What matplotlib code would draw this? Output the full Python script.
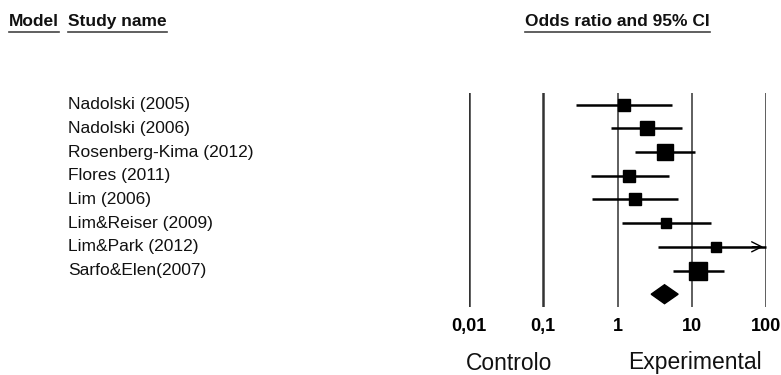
import numpy as np
import matplotlib.pyplot as plt
from matplotlib.transforms import blended_transform_factory
from matplotlib.lines import Line2D

plt.rcParams['font.family'] = ['Liberation Sans', 'DejaVu Sans']

# Study data
studies = ["Nadolski (2005)", "Nadolski (2006)", "Rosenberg-Kima (2012)",
           "Flores (2011)", "Lim (2006)", "Lim&Reiser (2009)",
           "Lim&Park (2012)", "Sarfo&Elen(2007)"]
odds = [1.23, 2.46, 4.43, 1.45, 1.71, 4.57, 20.9, 12.3]
ci_low = [0.28, 0.82, 1.73, 0.44, 0.45, 1.16, 3.53, 5.56]
ci_high = [5.45, 7.43, 11.2, 4.96, 6.56, 18.3, 124.0, 27.6]
weights = [9.6, 13.0, 19.2, 11.2, 9.6, 8.0, 5.4, 24.0]

# Pooled estimate
pooled = 4.30
pooled_low = 2.84
pooled_high = 6.56

tick_vals = [0.01, 0.1, 1, 10, 100]
tick_labels = ["0,01", "0,1", "1", "10", "100"]

W, H = 781, 375
fig = plt.figure(figsize=(W / 100, H / 100), dpi=100)

# forest panel: x from 0.01 to 100 in log scale
ax = fig.add_axes([469 / W, 1 - 307 / H, (766 - 469) / W, (307 - 93) / H])
ax.set_xscale('log')
ax.set_xlim(0.01, 100)
ax.set_ylim(8.54, -0.49)

for v in tick_vals:
    lw = 1.8 if v < 1 else 1.1
    ax.axvline(v, color='#333333', lw=lw, zorder=1)

n = len(studies)
for i in range(n):
    hi = min(ci_high[i], 100)
    ax.plot([ci_low[i], hi], [i, i], color='black', lw=1.8, zorder=2,
            clip_on=False, solid_capstyle='butt')
    if ci_high[i] > 100:
        ax.annotate('', xy=(100, i), xytext=(60, i),
                    arrowprops=dict(arrowstyle='->', color='black', lw=1.0,
                                    mutation_scale=18),
                    annotation_clip=False)
    ms = 2.79 * np.sqrt(weights[i])
    ax.plot(odds[i], i, marker='s', ms=ms, color='black', zorder=3,
            clip_on=False)

# pooled diamond
yd = n
ax.fill([pooled_low, pooled, pooled_high, pooled],
        [yd, yd - 0.4, yd, yd + 0.4], color='black', zorder=3, clip_on=False)

ax.set_xticks(tick_vals)
ax.set_xticklabels(tick_labels, fontsize=13, fontweight='bold')
ax.xaxis.set_minor_locator(plt.NullLocator())
ax.tick_params(axis='x', length=0, pad=8)
ax.set_yticks([])
for s in ax.spines.values():
    s.set_visible(False)
ax.patch.set_visible(False)

# study names on the left
trans = blended_transform_factory(fig.transFigure, ax.transData)
for i, name in enumerate(studies):
    ax.text(68 / W, i, name, transform=trans, ha='left', va='center',
            fontsize=12.5, color='#111111')

# underlined headers
headers = [(9, "Model"), (68, "Study name"), (525, "Odds ratio and 95% CI")]
fig.canvas.draw()
renderer = fig.canvas.get_renderer()
for x, label in headers:
    t = fig.text(x / W, 1 - 21.5 / H, label, ha='left', va='center',
                 fontsize=12.5, fontweight='bold', color='#111111')
    bb = t.get_window_extent(renderer)
    y_line = 1 - 31.5 / H
    fig.add_artist(Line2D([bb.x0 / W, bb.x1 / W], [y_line, y_line],
                          color='#444444', lw=1.2))

fig.text(509 / W, 1 - 364 / H, "Controlo", ha='center', va='center',
         fontsize=16.5, color='#111111')
fig.text(695 / W, 1 - 362 / H, "Experimental", ha='center', va='center',
         fontsize=16.5, color='#111111')

fig.savefig('out.png', dpi=100, facecolor='white')
